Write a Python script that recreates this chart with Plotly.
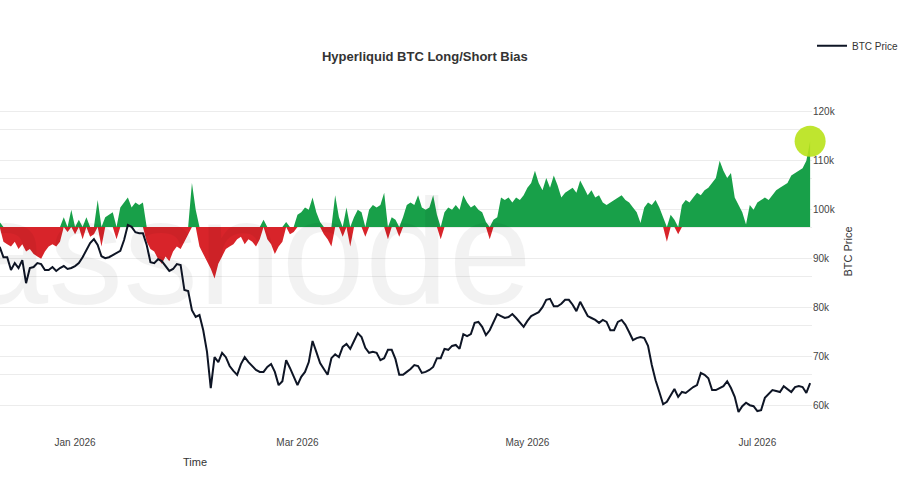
import pandas as pd
import plotly.graph_objects as go

# daily series, first day 2025-12-12
start_date = "2025-12-12"

btc_price = [
    92400, 90300, 90300, 87700, 89100, 88100, 89700, 85000, 88100, 88300,
    89100, 88900, 87700, 87700, 88300, 87500, 88100, 88500, 87900, 88100,
    88500, 89100, 90300, 91800, 93200, 94000, 92800, 90500, 90100, 90300,
    90700, 91200, 91600, 93800, 96900, 96500, 95400, 95200, 95200, 92800,
    89300, 89100, 89900, 89500, 88500, 87500, 87900, 88900, 88700, 83600,
    83400, 79500, 78100, 78500, 75400, 71000, 63600, 69900, 68900, 70800,
    69900, 68100, 67100, 66300, 68500, 69900, 68900, 68100, 67300, 66900,
    66900, 67900, 68500, 66900, 64200, 65000, 69300, 67700, 65900, 64200,
    65900, 66900, 68900, 73200, 71000, 68700, 67500, 66300, 69700, 70500,
    69900, 72000, 72600, 71600, 73200, 74800, 74000, 71800, 70800, 71000,
    70800, 69300, 69700, 71400, 71400, 69500, 66300, 66300, 66900, 67500,
    68300, 68100, 66700, 66900, 67300, 67900, 69700, 69700, 71600, 71400,
    72200, 72400, 71600, 74600, 74200, 74600, 76900, 77100, 76100, 74400,
    75400, 77100, 78700, 78300, 77900, 78100, 78700, 77900, 77100, 76100,
    77300, 78300, 78700, 79100, 80100, 81600, 81800, 80300, 80300, 80800,
    81600, 81600, 80600, 79300, 81200, 79900, 78300, 77900, 77500, 76900,
    77500, 77100, 75400, 75400, 77100, 77500, 76500, 75000, 73400, 73800,
    74000, 73800, 72200, 68300, 65200, 62800, 60300, 60800, 62200, 63400,
    61800, 62800, 62600, 63200, 63800, 64200, 66700, 66300, 65600, 63200,
    63200, 63600, 64000, 65000, 63600, 61800, 58700, 59900, 60600, 60100,
    59900, 58900, 59100, 61600, 62400, 63200, 63000, 62800, 64000, 63400,
    62800, 63800, 64000, 63800, 62600, 64600,
]

# net long/short bias (%), >0 long, <0 short
bias = [
    1.0, -3.0, -3.5, -4.0, -3.0, -4.5, -3.5, -5.0, -4.5, -5.5,
    -6.0, -6.5, -5.0, -4.0, -3.5, -4.0, -3.0, 2.0, -1.0, 3.5,
    -1.5, 1.5, -2.5, 2.0, -2.0, -1.5, 5.5, -4.0, 2.0, 2.5,
    3.0, -2.5, 4.0, 5.0, 6.0, 4.0, 5.0, 4.5, 5.0, -3.0,
    -4.5, -5.0, -6.5, -7.5, -6.0, -7.0, -5.0, -4.0, -4.5, -3.0,
    -1.5, 9.0, 3.5, -4.0, -5.5, -7.0, -8.5, -10.5, -7.5, -6.0,
    -4.5, -4.0, -3.5, -2.5, -2.0, -3.5, -2.5, -3.0, -4.0, -2.5,
    1.5, -2.5, -3.5, -5.5, -4.0, -3.0, 1.0, -1.5, -1.0, 2.5,
    3.0, 4.0, 3.5, 6.0, 3.0, 1.0, -1.5, -2.5, -4.0, 6.5,
    2.0, -2.0, 4.0, -4.0, 2.0, 3.5, 3.0, -2.0, 3.5, 4.5,
    4.0, 4.5, 7.0, -2.5, 2.0, 1.5, -2.0, 2.0, 4.5, 5.0,
    4.5, 6.5, 4.0, 3.5, 4.0, 6.5, 2.5, -2.5, 3.0, 4.0,
    3.5, 4.5, 3.5, 6.5, 5.0, 4.0, 4.5, 3.5, 3.0, 1.0,
    -2.5, 1.5, 2.0, 6.0, 5.5, 6.0, 5.0, 6.0, 5.5, 6.5,
    8.0, 9.0, 11.5, 9.0, 7.5, 10.0, 8.0, 10.5, 8.5, 6.0,
    7.0, 7.5, 8.0, 7.0, 9.5, 8.0, 6.5, 7.5, 6.0, 6.5,
    5.0, 4.5, 5.0, 5.5, 6.0, 6.5, 5.5, 5.0, 4.0, 3.0,
    0.8, 4.0, 5.0, 4.5, 5.5, 4.0, 2.0, -3.0, 2.5, 1.5,
    -1.5, 4.5, 5.5, 5.0, 6.0, 7.0, 6.5, 7.5, 8.0, 9.0,
    10.0, 13.5, 11.5, 10.0, 11.0, 6.0, 4.5, 3.0, 0.5, 4.5,
    3.5, 5.0, 5.5, 6.0, 5.5, 6.5, 7.5, 8.0, 8.5, 9.0,
    10.5, 11.0, 11.5, 12.0, 13.5, 17.5,
]

dates = pd.date_range(start_date, periods=len(btc_price), freq="D")
longs = [max(v, 0) for v in bias]
shorts = [min(v, 0) for v in bias]

fig = go.Figure()

fig.add_trace(go.Scatter(x=dates, y=shorts, mode="lines", line=dict(width=0),
                         fill="tozeroy", fillcolor="#d8242a", showlegend=False,
                         hoverinfo="skip"))
fig.add_trace(go.Scatter(x=dates, y=longs, mode="lines", line=dict(width=0),
                         fill="tozeroy", fillcolor="#18a049", showlegend=False,
                         hoverinfo="skip"))
fig.add_trace(go.Scatter(x=dates, y=btc_price, mode="lines", name="BTC Price",
                         line=dict(color="#0e1525", width=2), yaxis="y2"))
# highlight on latest reading
fig.add_trace(go.Scatter(x=dates[-1:], y=bias[-1:], mode="markers", showlegend=False,
                         cliponaxis=False, hoverinfo="skip",
                         marker=dict(size=31, color="rgba(184,226,24,0.9)", line=dict(width=0))))

fig.update_layout(
    width=906, height=480,
    margin=dict(l=0, r=94, t=80, b=57),
    plot_bgcolor="white", paper_bgcolor="white",
    font=dict(family="Arial, Liberation Sans, sans-serif", color="#444", size=10),
    title=dict(text="<b>Hyperliquid BTC Long/Short Bias</b>", x=0.469, y=0.883,
               xanchor="center", yanchor="middle",
               font=dict(size=13, color="#333")),
    legend=dict(x=1.0, y=1.1, xanchor="left", yanchor="middle",
                font=dict(size=10, color="#333"), bgcolor="rgba(0,0,0,0)"),
    xaxis=dict(type="date", range=["2025-12-12 02:00", "2026-07-15 12:00"],
               tick0="2026-01-01", dtick="M2", tickformat="%b %Y",
               showgrid=False, zeroline=False, showline=False,
               ticks="outside", ticklen=10, tickcolor="rgba(0,0,0,0)"),
    yaxis=dict(range=[-40, 30], dtick=10, showticklabels=False,
               gridcolor="#ececec", zeroline=False, showline=False),
    yaxis2=dict(overlaying="y", side="right", range=[56470, 126470],
                tick0=0, dtick=10000, tickformat="~s",
                gridcolor="#ececec", zeroline=False, showline=False,
                title=dict(text="BTC Price", font=dict(size=11, color="#333"), standoff=9)),
    annotations=[
        dict(text="glassnode", xref="paper", yref="paper", x=0.234, y=0.50,
             xanchor="center", yanchor="middle", showarrow=False,
             font=dict(size=150, color="rgba(0,0,0,0.05)")),
        dict(text="Time", xref="paper", yref="paper", x=0.24, y=-0.114,
             xanchor="center", yanchor="middle", showarrow=False,
             font=dict(size=11, color="#333")),
    ],
)

fig.write_html("out.html", config={"displayModeBar": False},
               post_script="document.body.style.margin='0px';document.body.style.overflow='hidden';")
